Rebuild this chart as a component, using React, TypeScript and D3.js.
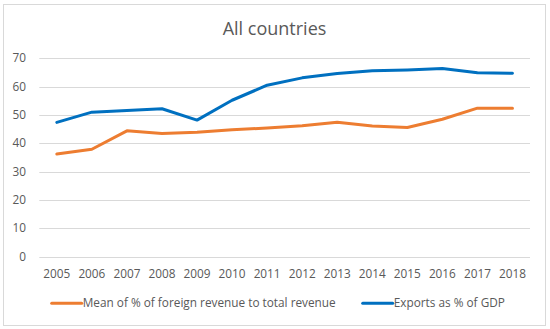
import React, { useEffect, useRef } from "react";
import * as d3 from "d3";

const years = ["2005", "2006", "2007", "2008", "2009", "2010", "2011", "2012", "2013", "2014", "2015", "2016", "2017", "2018"];
const foreignRevenue = [36.2, 37.9, 44.4, 43.5, 43.9, 44.8, 45.4, 46.2, 47.4, 46.1, 45.6, 48.5, 52.4, 52.4];
const exportsGdp = [47.4, 51.0, 51.6, 52.2, 48.2, 55.2, 60.5, 63.1, 64.6, 65.6, 65.9, 66.4, 64.9, 64.7];
const yTicks = [0, 10, 20, 30, 40, 50, 60, 70];
const seriesNames = ["Mean of % of foreign revenue to total revenue", "Exports as % of GDP"];

export default function App() {
  const ref = useRef<SVGSVGElement | null>(null);

  useEffect(() => {
    document.body.style.margin = "0";
    const width = 550, height = 329;
    const font = "'Open Sans', sans-serif";
    const textColor = "#595959";

    const svg = d3.select(ref.current);
    svg.selectAll("*").remove();
    svg.attr("width", width).attr("height", height).attr("viewBox", `0 0 ${width} ${height}`);

    svg.append("rect").attr("x", 0).attr("y", 0).attr("width", width).attr("height", height).attr("fill", "#fff");
    // chart border
    svg.append("rect")
      .attr("x", 3.5).attr("y", 4.5).attr("width", 542).attr("height", 321)
      .attr("fill", "#fff").attr("stroke", "#d9d9d9").attr("stroke-width", 1);

    svg.append("text")
      .attr("x", 274.5).attr("y", 35)
      .attr("text-anchor", "middle")
      .attr("font-family", font).attr("font-size", 18)
      .attr("fill", textColor)
      .text("All countries");

    const x = d3.scaleBand<string>().domain(years).range([39.3, 530]).padding(0);
    const y = d3.scaleLinear().domain([0, 70]).range([256.7, 58.3]);
    const cx = (d: string) => (x(d) as number) + x.bandwidth() / 2;

    // gridlines
    svg.append("g").selectAll("line").data(yTicks).enter().append("line")
      .attr("x1", 39.3).attr("x2", 530)
      .attr("y1", d => Math.round(y(d)) + 0.5).attr("y2", d => Math.round(y(d)) + 0.5)
      .attr("stroke", "#d9d9d9").attr("stroke-width", 1);

    // y tick labels
    svg.append("g").selectAll("text").data(yTicks).enter().append("text")
      .attr("x", 26).attr("y", d => y(d)).attr("dy", "0.35em")
      .attr("text-anchor", "end")
      .attr("font-family", font).attr("font-size", 11.8).attr("fill", textColor)
      .text(d => String(d));

    // x tick labels
    svg.append("g").selectAll("text").data(years).enter().append("text")
      .attr("x", d => cx(d)).attr("y", 274).attr("dy", "0.35em")
      .attr("text-anchor", "middle")
      .attr("font-family", font).attr("font-size", 11.8).attr("fill", textColor)
      .text(d => d);

    const series = [
      { name: seriesNames[0], values: foreignRevenue, color: "#ed7d31" },
      { name: seriesNames[1], values: exportsGdp, color: "#0070c0" },
    ];

    const line = d3.line<number>().x((_, i) => cx(years[i])).y(d => y(d));
    series.forEach(s => {
      svg.append("path").datum(s.values)
        .attr("d", line)
        .attr("fill", "none").attr("stroke", s.color).attr("stroke-width", 3)
        .attr("stroke-linejoin", "round").attr("stroke-linecap", "round");
    });

    // legend
    const legendX = [51.7, 362.7];
    const legendY = 303.3;
    series.forEach((s, i) => {
      const lg = svg.append("g").attr("transform", `translate(${legendX[i]},${legendY})`);
      lg.append("line").attr("x1", 0).attr("x2", 30).attr("y1", 0).attr("y2", 0)
        .attr("stroke", s.color).attr("stroke-width", 3).attr("stroke-linecap", "round");
      lg.append("text").attr("x", 31).attr("y", 0).attr("dy", "0.35em")
        .attr("font-family", font).attr("font-size", 11.8).attr("fill", textColor)
        .text(s.name);
    });
  }, []);

  return <svg ref={ref} style={{ display: "block" }} />;
}
